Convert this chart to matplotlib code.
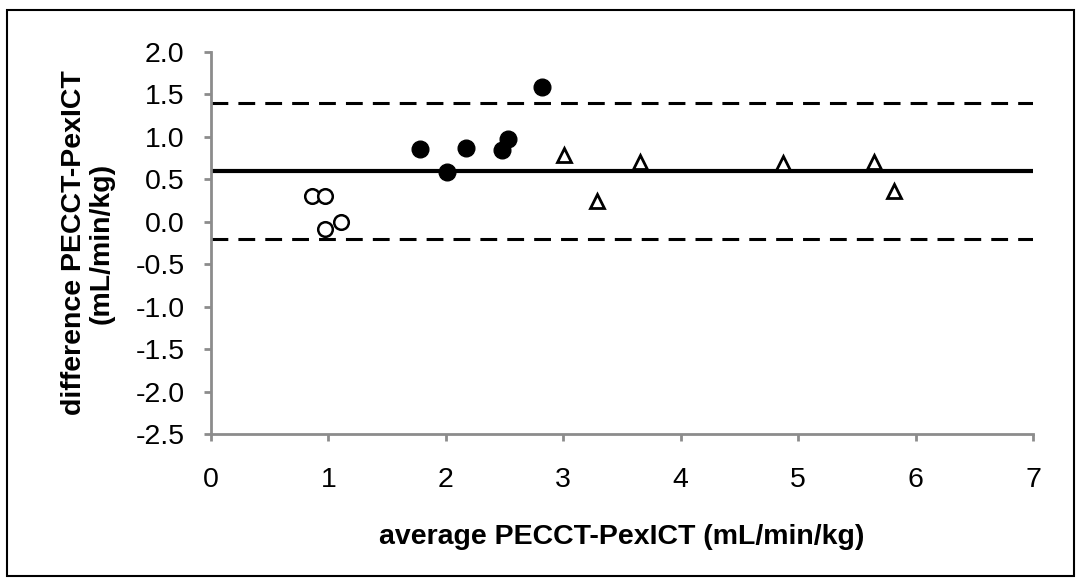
import matplotlib.pyplot as plt
from matplotlib.patches import Rectangle

plt.rcParams['font.family'] = ['Liberation Sans', 'DejaVu Sans']

# group 1: open circles
x_open = [0.86, 0.97, 0.97, 1.11]
y_open = [0.30, 0.30, -0.09, 0.00]
# group 2: filled circles
x_fill = [1.78, 2.01, 2.17, 2.48, 2.53, 2.82]
y_fill = [0.86, 0.59, 0.87, 0.85, 0.97, 1.59]
# group 3: open triangles
x_tri = [3.01, 3.29, 3.65, 4.87, 5.65, 5.82]
y_tri = [0.79, 0.24, 0.71, 0.69, 0.71, 0.36]

mean_diff = 0.6
upper_loa = 1.4
lower_loa = -0.2

fig = plt.figure(figsize=(10.81, 5.83), dpi=100)
ax = fig.add_axes([0.1952, 0.2556, 0.7604, 0.6552])

ax.plot([0, 7], [mean_diff, mean_diff], color='black', lw=3.0, zorder=2)
ax.plot([0, 7], [upper_loa, upper_loa], color='black', lw=2.2,
        linestyle=(0, (5.5, 3.3)), zorder=2)
ax.plot([0, 7], [lower_loa, lower_loa], color='black', lw=2.2,
        linestyle=(0, (5.5, 3.3)), zorder=2)

ax.plot(x_open, y_open, 'o', ms=10.5, mfc='white', mec='black', mew=1.8, zorder=3)
ax.plot(x_fill, y_fill, 'o', ms=12, mfc='black', mec='black', zorder=3)
ax.plot(x_tri, y_tri, '^', ms=10, mfc='white', mec='black', mew=2.0, zorder=3)

ax.set_xlim(0, 7)
ax.set_ylim(-2.5, 2.0)
ax.set_xticks(range(0, 8))
ax.set_yticks([-2.5, -2.0, -1.5, -1.0, -0.5, 0.0, 0.5, 1.0, 1.5, 2.0])
ax.set_yticklabels(['%.1f' % v for v in ax.get_yticks()])

for s in ['top', 'right']:
    ax.spines[s].set_visible(False)
for s in ['left', 'bottom']:
    ax.spines[s].set_color('#8c8c8c')
    ax.spines[s].set_linewidth(2)
ax.tick_params(axis='both', direction='out', length=5, width=2, color='#8c8c8c',
               labelsize=20.5, labelcolor='black')
ax.tick_params(axis='x', pad=19)
ax.tick_params(axis='y', pad=14)

ax.set_xlabel('average PECCT-PexICT (mL/min/kg)', fontsize=20.5, fontweight='bold',
              labelpad=22)
ax.set_ylabel('difference PECCT-PexICT\n(mL/min/kg)', fontsize=20.5, fontweight='bold',
              labelpad=15, linespacing=1.1)

# outer frame around the whole chart
fig.patches.append(Rectangle((7 / 1081, 1 - 576 / 583), 1067 / 1081, 566 / 583,
                             transform=fig.transFigure, fill=False,
                             edgecolor='black', lw=1.5))

fig.savefig('out.png', dpi=100)
